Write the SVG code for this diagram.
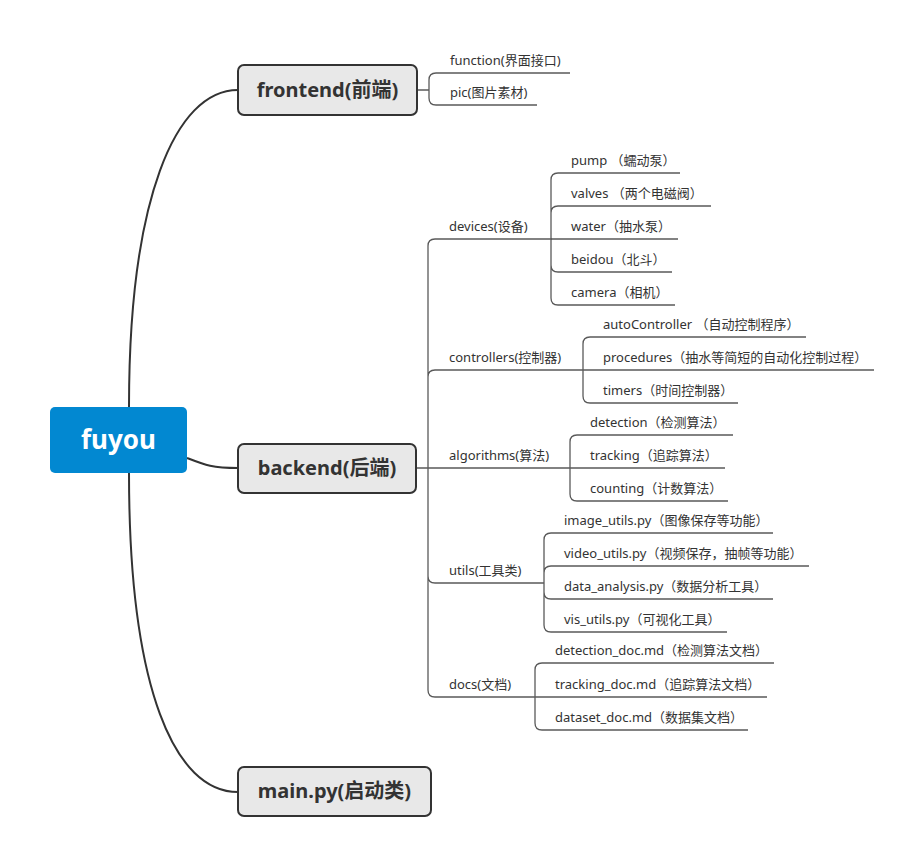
<svg xmlns="http://www.w3.org/2000/svg" width="924" height="866" viewBox="0 0 924 866">
<style>
.main{fill:none;stroke:#333;stroke-width:2}
.br{fill:none;stroke:#5a5a5a;stroke-width:1.3}
.box{fill:#e8e8e8;stroke:#333;stroke-width:2}
.nt{font-family:"Noto Sans","Noto Sans CJK SC",sans-serif;font-size:20px;font-weight:bold;fill:#333;text-anchor:middle}
.rt{font-family:"Noto Sans","Noto Sans CJK SC",sans-serif;font-size:26px;font-weight:bold;fill:#fff;text-anchor:middle}
.t{font-family:"Noto Sans","Noto Sans CJK SC",sans-serif;font-size:13px;fill:#333}
</style>
<rect width="924" height="866" fill="#fff"/>
<g id="connectors">
<path class="main" d="M129,407 C129,200 175,90 238,90"/>
<path class="main" d="M187,458 C205,465 212,468 238,468"/>
<path class="main" d="M129,473 C129,690 175,792 238,792"/>
<!-- frontend -->
<path class="br" d="M417,90 H429 M429,80 V98 M429,80 Q429,73 436,73 H570 M429,98 Q429,105 436,105 H537"/>
<!-- backend trunk -->
<path class="br" d="M416,468 H570 M428,246 V690 M428,246 Q428,239 435,239 H552 M428,377 Q428,370 435,370 H583 M428,576 Q428,583 435,583 H544 M428,690 Q428,697 435,697 H535"/>
<!-- devices -->
<path class="br" d="M551,180 V298 M551,180 Q551,173 558,173 H680 M551,213 Q551,206 558,206 H711 M551,239 H678 M551,265 Q551,272 558,272 H672 M551,298 Q551,305 558,305 H675"/>
<!-- controllers -->
<path class="br" d="M583,344 V396 M583,344 Q583,337 590,337 H806 M583,370 H874 M583,396 Q583,403 590,403 H738"/>
<!-- algorithms -->
<path class="br" d="M570,442 V494 M570,442 Q570,435 577,435 H733 M570,468 H725 M570,494 Q570,501 577,501 H728"/>
<!-- utils -->
<path class="br" d="M544,540 V625 M544,540 Q544,533 551,533 H773 M544,573 Q544,566 551,566 H809 M544,592 Q544,599 551,599 H773 M544,625 Q544,632 551,632 H727"/>
<!-- docs -->
<path class="br" d="M535,670 V723 M535,670 Q535,663 542,663 H774 M535,697 H767 M535,723 Q535,730 542,730 H748"/>
</g>
<g id="root">
<rect x="50" y="407" width="137" height="66" rx="5" fill="#0288d1"/>
<text class="rt" x="118.5" y="449">fuyou</text>
</g>
<g id="frontend">
<rect class="box" x="238" y="65" width="179" height="50" rx="6"/>
<text class="nt" x="327.5" y="97">frontend(前端)</text>
</g>
<g id="backend">
<rect class="box" x="238" y="444" width="178" height="49" rx="6"/>
<text class="nt" x="327" y="475">backend(后端)</text>
</g>
<g id="main">
<rect class="box" x="238" y="767" width="193" height="49" rx="6"/>
<text class="nt" x="334.5" y="798">main.py(启动类)</text>
</g>
<g id="frontend-children">
<text class="t" x="450" y="65">function(界面接口)</text>
<text class="t" x="450" y="97">pic(图片素材)</text>
</g>
<g id="backend-children">
<text class="t" x="449" y="231">devices(设备)</text>
<text class="t" x="449" y="362">controllers(控制器)</text>
<text class="t" x="449" y="460">algorithms(算法)</text>
<text class="t" x="449" y="575">utils(工具类)</text>
<text class="t" x="449" y="689">docs(文档)</text>
</g>
<g id="devices-children">
<text class="t" x="571" y="165">pump （蠕动泵）</text>
<text class="t" x="571" y="198">valves （两个电磁阀）</text>
<text class="t" x="571" y="231">water（抽水泵）</text>
<text class="t" x="571" y="264">beidou（北斗）</text>
<text class="t" x="571" y="297">camera（相机）</text>
</g>
<g id="controllers-children">
<text class="t" x="603" y="329">autoController （自动控制程序）</text>
<text class="t" x="603" y="362">procedures（抽水等简短的自动化控制过程）</text>
<text class="t" x="603" y="395">timers（时间控制器）</text>
</g>
<g id="algorithms-children">
<text class="t" x="590" y="427">detection（检测算法）</text>
<text class="t" x="590" y="460">tracking（追踪算法）</text>
<text class="t" x="590" y="493">counting（计数算法）</text>
</g>
<g id="utils-children">
<text class="t" x="564" y="525">image_utils.py（图像保存等功能）</text>
<text class="t" x="564" y="558">video_utils.py（视频保存，抽帧等功能）</text>
<text class="t" x="564" y="591">data_analysis.py（数据分析工具）</text>
<text class="t" x="564" y="624">vis_utils.py（可视化工具）</text>
</g>
<g id="docs-children">
<text class="t" x="555" y="655">detection_doc.md（检测算法文档）</text>
<text class="t" x="555" y="689">tracking_doc.md（追踪算法文档）</text>
<text class="t" x="555" y="722">dataset_doc.md（数据集文档）</text>
</g>
</svg>
